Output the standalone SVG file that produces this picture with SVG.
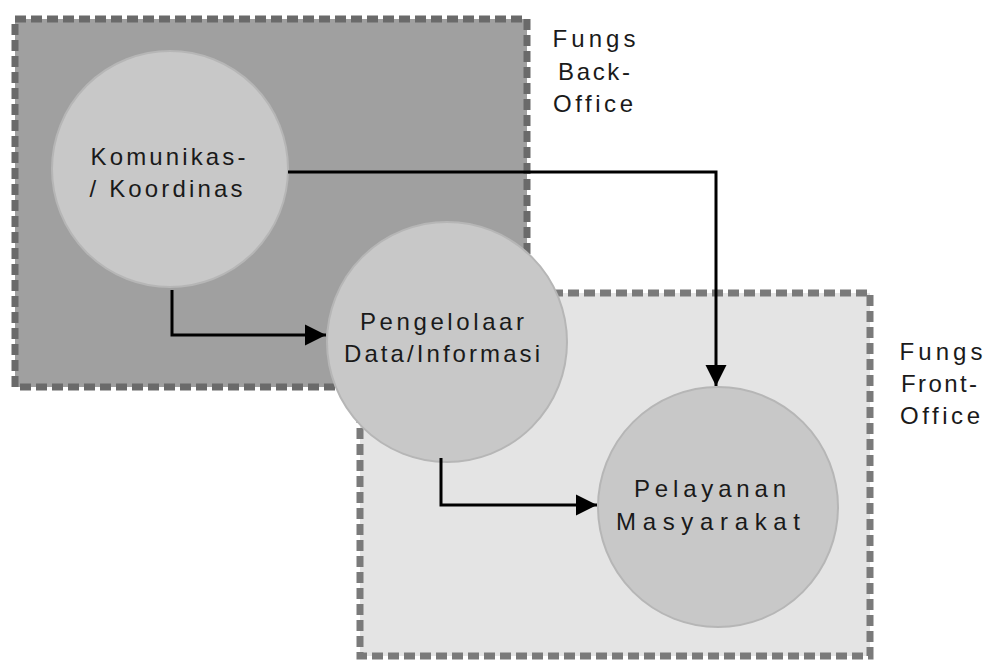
<svg xmlns="http://www.w3.org/2000/svg" width="989" height="664" viewBox="0 0 989 664">
<style>
.box{stroke-width:7;stroke-dasharray:11 5;}
.node{fill:#c8c8c8;stroke:#b6b6b6;stroke-width:2;}
.t{font-family:"Liberation Sans",Arial,sans-serif;font-size:24px;fill:#1a1a1a;text-anchor:middle;}
.c{fill:none;stroke:#000;stroke-width:3;}
</style>
<defs>
<marker id="ah" markerWidth="8" markerHeight="8" refX="7" refY="4" orient="auto" markerUnits="strokeWidth">
<path d="M0,0.5 L7,4 L0,7.5 Z" fill="#000"/>
</marker>
</defs>
<rect width="989" height="664" fill="#fff"/>
<g id="back-office">
<rect class="box" x="15" y="19" width="512" height="368" fill="#a0a0a0" stroke="#6a6a6a"/>
<text class="t" x="594" y="47" textLength="83" lengthAdjust="spacing">Fungs</text>
<text class="t" x="594" y="80" textLength="72" lengthAdjust="spacing">Back-</text>
<text class="t" x="593" y="112" textLength="80" lengthAdjust="spacing">Office</text>
</g>
<g id="front-office">
<rect class="box" x="360" y="293" width="510" height="363" fill="#e4e4e4" stroke="#7a7a7a"/>
<text class="t" x="941" y="360" textLength="83" lengthAdjust="spacing">Fungs</text>
<text class="t" x="939" y="392" textLength="76" lengthAdjust="spacing">Front-</text>
<text class="t" x="940" y="424" textLength="80" lengthAdjust="spacing">Office</text>
</g>
<g id="komunikasi">
<circle class="node" cx="170" cy="169" r="118"/>
<text class="t" x="168" y="165" textLength="155" lengthAdjust="spacing">Komunikas-</text>
<text class="t" x="166" y="197" textLength="153" lengthAdjust="spacing">/ Koordinas</text>
</g>
<g id="pengelolaan">
<circle class="node" cx="447" cy="342" r="120"/>
<text class="t" x="442" y="330" textLength="164" lengthAdjust="spacing">Pengelolaar</text>
<text class="t" x="442" y="362" textLength="196" lengthAdjust="spacing">Data/Informasi</text>
</g>
<g id="pelayanan">
<circle class="node" cx="718" cy="507" r="120"/>
<text class="t" x="710" y="497" textLength="152" lengthAdjust="spacing">Pelayanan</text>
<text class="t" x="708" y="530" textLength="184" lengthAdjust="spacing">Masyarakat</text>
</g>
<g id="connectors">
<path class="c" d="M288,172 H716 V386" marker-end="url(#ah)"/>
<path class="c" d="M172,290 V335 H326" marker-end="url(#ah)"/>
<path class="c" d="M441,458 V505 H597" marker-end="url(#ah)"/>
</g>
</svg>
